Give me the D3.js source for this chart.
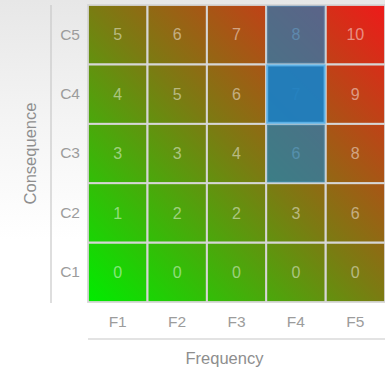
<!DOCTYPE html>
<html>
<head>
<meta charset="utf-8">
<script src="https://cdn.jsdelivr.net/npm/d3@7"></script>
<style>
  html, body { margin: 0; padding: 0; }
  body { width: 385px; height: 369px; overflow: hidden;
         background: linear-gradient(to bottom, #e7e7e7 0%, #f5f5f5 35%, #ffffff 65%); }
  svg { display: block; }
  text { font-family: "Liberation Sans", Arial, sans-serif; }
</style>
</head>
<body>
<svg id="chart" width="385" height="369"></svg>
<script>
// Risk matrix: frequency (x) against consequence (y)
const frequency = ["F1", "F2", "F3", "F4", "F5"];
const consequence = ["C1", "C2", "C3", "C4", "C5"];
// One row per consequence level (C1..C5), one value per frequency level (F1..F5)
const scoreC1 = [0, 0, 0, 0, 0];
const scoreC2 = [1, 2, 2, 3, 6];
const scoreC3 = [3, 3, 4, 6, 8];
const scoreC4 = [4, 5, 6, 7, 9];
const scoreC5 = [5, 6, 7, 8, 10];
const scores = [scoreC1, scoreC2, scoreC3, scoreC4, scoreC5];
// Highlighted cells: the selected one and its neighbours
const selected = [{ f: "F4", c: "C4" }];
const neighbours = [{ f: "F4", c: "C5" }, { f: "F4", c: "C3" }];

const svg = d3.select("#chart");
const gridLeft = 88, gridTop = 5, gridSize = 297;

const x = d3.scaleBand().domain(frequency).range([gridLeft, gridLeft + gridSize]);
const y = d3.scaleBand().domain(consequence).range([gridTop + gridSize, gridTop]);

// diagonal green-to-red fill across the whole grid
const defs = svg.append("defs");
const grad = defs.append("linearGradient").attr("id", "risk")
  .attr("x1", 0).attr("y1", 1).attr("x2", 1).attr("y2", 0);
grad.append("stop").attr("offset", "0%").attr("stop-color", "#00ec00");
grad.append("stop").attr("offset", "50%").attr("stop-color", "#7a7c12");
grad.append("stop").attr("offset", "100%").attr("stop-color", "#ee1a1a");

svg.append("rect")
  .attr("x", x.range()[0]).attr("y", y.range()[1])
  .attr("width", x.range()[1] - x.range()[0])
  .attr("height", y.range()[0] - y.range()[1])
  .attr("fill", "url(#risk)");

const cells = [];
scores.forEach((row, ci) => row.forEach((v, fi) =>
  cells.push({ f: frequency[fi], c: consequence[ci], v })));

// cell outlines
svg.append("g").selectAll("rect").data(cells).join("rect")
  .attr("x", d => x(d.f)).attr("y", d => y(d.c))
  .attr("width", x.bandwidth()).attr("height", y.bandwidth())
  .attr("fill", "none").attr("stroke", "#d6d6d6").attr("stroke-width", 1.8);

// cell values
svg.append("g").selectAll("text").data(cells).join("text")
  .attr("x", d => x(d.f) + x.bandwidth() / 2)
  .attr("y", d => y(d.c) + y.bandwidth() / 2)
  .attr("dy", "0.36em")
  .attr("text-anchor", "middle")
  .attr("font-size", 16)
  .attr("fill", "#ffffff").attr("fill-opacity", 0.48)
  .text(d => d.v);

// blue highlight overlays
function overlay(list, opacity, edge) {
  svg.append("g").selectAll("rect").data(list).join("rect")
    .attr("x", d => x(d.f) + 1).attr("y", d => y(d.c) + 1)
    .attr("width", x.bandwidth() - 2).attr("height", y.bandwidth() - 2)
    .attr("fill", "#1b80c3").attr("fill-opacity", opacity)
    .attr("stroke", "#5cb4ea").attr("stroke-opacity", edge).attr("stroke-width", 2);
}
overlay(neighbours, 0.66, 0.25);
overlay(selected, 0.94, 0.94);

// axes
const yAxis = svg.append("g").attr("transform", `translate(${gridLeft},0)`)
  .call(d3.axisLeft(y).tickSize(0).tickPadding(8));
const xAxis = svg.append("g").attr("transform", `translate(0,${gridTop + gridSize})`)
  .call(d3.axisBottom(x).tickSize(0).tickPadding(14));
[yAxis, xAxis].forEach(a => {
  a.select(".domain").remove();
  a.selectAll("text").attr("font-size", 15.5).attr("fill", "#9c9c9c")
    .attr("font-family", "'Liberation Sans', Arial, sans-serif");
});

// separate axis rules
svg.append("line")
  .attr("x1", 51).attr("x2", 51)
  .attr("y1", y.range()[1]).attr("y2", y.range()[0] + 1)
  .attr("stroke", "#c8c8c8").attr("stroke-width", 1.2);
svg.append("line")
  .attr("x1", x.range()[0]).attr("x2", x.range()[1])
  .attr("y1", 339).attr("y2", 339)
  .attr("stroke", "#c8c8c8").attr("stroke-width", 1.2);

// axis titles
svg.append("text")
  .attr("x", (x.range()[0] + x.range()[1]) / 2 - 12).attr("y", 364)
  .attr("text-anchor", "middle").attr("font-size", 16.5).attr("fill", "#8e8e8e")
  .text("Frequency");
svg.append("text")
  .attr("transform", `translate(36,${(y.range()[0] + y.range()[1]) / 2}) rotate(-90)`)
  .attr("text-anchor", "middle").attr("font-size", 16.5).attr("fill", "#8e8e8e")
  .text("Consequence");
</script>
</body>
</html>
